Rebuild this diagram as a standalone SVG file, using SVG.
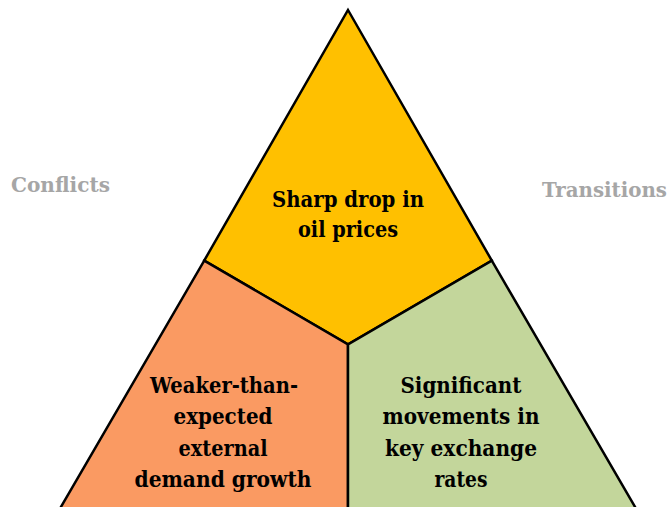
<svg xmlns="http://www.w3.org/2000/svg" width="671" height="507" viewBox="0 0 671 507">
  <style>
    .seg { stroke: #000000; stroke-width: 2.5; stroke-linejoin: miter; }
    .lbl { font-family: "DejaVu Serif", "Liberation Serif", serif; font-weight: bold; font-size: 22px; fill: #000000; text-anchor: middle; }
    .side { font-family: "DejaVu Serif", "Liberation Serif", serif; font-weight: bold; font-size: 20px; fill: #A6A6A6; }
  </style>
  <rect width="671" height="507" fill="#FFFFFF"/>

  <!-- top segment of the triangle -->
  <g id="node-oil">
    <polygon class="seg" fill="#FFC000" points="348,10 491.8,260.6 348,344.4 204.2,260.6"/>
    <text class="lbl" x="348" y="207" textLength="152" lengthAdjust="spacingAndGlyphs">Sharp drop in</text>
    <text class="lbl" x="348" y="237" textLength="100" lengthAdjust="spacingAndGlyphs">oil prices</text>
  </g>

  <!-- lower-left segment -->
  <g id="node-demand">
    <polygon class="seg" fill="#FA9A62" points="204.2,260.6 348,344.4 348,512 58,512"/>
    <text class="lbl" x="224" y="393" textLength="148" lengthAdjust="spacingAndGlyphs">Weaker-than-</text>
    <text class="lbl" x="223" y="424" textLength="99" lengthAdjust="spacingAndGlyphs">expected</text>
    <text class="lbl" x="223" y="456" textLength="89" lengthAdjust="spacingAndGlyphs">external</text>
    <text class="lbl" x="223" y="487" textLength="177" lengthAdjust="spacingAndGlyphs">demand growth</text>
  </g>

  <!-- lower-right segment -->
  <g id="node-fx">
    <polygon class="seg" fill="#C3D69B" points="491.8,260.6 638,512 348,512 348,344.4"/>
    <text class="lbl" x="461" y="393" textLength="121" lengthAdjust="spacingAndGlyphs">Significant</text>
    <text class="lbl" x="461" y="424" textLength="157" lengthAdjust="spacingAndGlyphs">movements in</text>
    <text class="lbl" x="461" y="456" textLength="152" lengthAdjust="spacingAndGlyphs">key exchange</text>
    <text class="lbl" x="461" y="487" textLength="53" lengthAdjust="spacingAndGlyphs">rates</text>
  </g>

  <!-- side captions -->
  <g id="node-conflicts">
    <text class="side" x="11" y="192" textLength="99" lengthAdjust="spacingAndGlyphs">Conflicts</text>
  </g>
  <g id="node-transitions">
    <text class="side" x="542" y="197" textLength="125" lengthAdjust="spacingAndGlyphs">Transitions</text>
  </g>

  <g id="connectors"></g>
</svg>
